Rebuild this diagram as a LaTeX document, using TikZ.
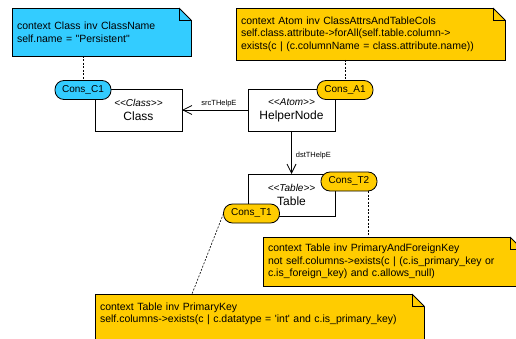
\documentclass[tikz,border=0pt]{standalone}
\usepackage{fontspec}
\setmainfont{Liberation Sans}[Ligatures=TeXOff]
\usetikzlibrary{positioning,arrows.meta}
\definecolor{oclblue}{RGB}{51,204,255}
\definecolor{oclyellow}{RGB}{255,204,0}
\tikzset{
  oclnote/.style={draw, fill=#1, line width=0.8pt, outer sep=0pt, inner xsep=5pt, inner ysep=0pt, align=left, font=\fontsize{10.5}{12.5}\selectfont},
  umlclass/.style={draw, fill=white, line width=0.8pt, outer sep=0pt, minimum width=87pt, minimum height=42pt, align=center, font=\fontsize{12}{14}\selectfont},
  conspill/.style={draw, fill=#1, line width=0.8pt, rounded corners=9pt, outer sep=0pt, minimum width=56pt, minimum height=19pt, inner sep=0pt, font=\fontsize{10}{12}\selectfont},
  assocarrow/.style={-{Straight Barb[length=9pt, width=9pt]}, line width=0.8pt},
  anchorline/.style={dash pattern=on 2pt off 1.5pt, line width=0.6pt},
  rolelabel/.style={font=\fontsize{7.5}{9}\selectfont, inner sep=1pt}
}
\newcommand{\stereo}[1]{{\fontsize{10}{12}\selectfont\itshape <<#1>>}}

\begin{document}
\begin{tikzpicture}[x=1pt, y=-1pt]
  \useasboundingbox (0,0) rectangle (516,339);
  \clip (0,0) rectangle (516,339);
  % OCL constraint notes
  \node[oclnote=oclblue, text width=169pt, minimum height=48pt] (noteC) at (101.5,32)
    {context Class inv ClassName\\self.name = "Persistent"};
  \node[oclnote=oclyellow, text width=259pt, minimum height=52pt] (noteA) at (370.5,34)
    {context Atom inv ClassAttrsAndTableCols\\self.class.attribute->forAll(self.table.column->\\exists(c | (c.columnName = class.attribute.name))};
  \node[oclnote=oclyellow, text width=249pt, minimum height=49pt] (noteK) at (392.5,261.5)
    {context Table inv PrimaryAndForeignKey\\not self.columns->exists(c | (c.is\_primary\_key or\\c.is\_foreign\_key) and c.allows\_null)};
  \node[oclnote=oclyellow, text width=319pt, minimum height=50pt] (noteP) at (259.5,319)
    {context Table inv PrimaryKey\\self.columns->exists(c | c.datatype = 'int' and c.is\_primary\_key)\\\mbox{}};
  \foreach \n in {noteC,noteA,noteK,noteP}{
    \fill[white] ([xshift=-12pt]\n.north east) -- ([xshift=-12pt,yshift=1pt]\n.north east)
      -- ([xshift=1pt,yshift=1pt]\n.north east) -- ([xshift=1pt,yshift=-12pt]\n.north east)
      -- ([yshift=-12pt]\n.north east) -- cycle;
    \draw[line width=0.8pt] ([xshift=-12pt]\n.north east) -- ([yshift=-12pt]\n.north east);
    \draw[line width=0.8pt] ([xshift=-12pt]\n.north east) -- ([xshift=-12pt,yshift=-12pt]\n.north east)
      -- ([yshift=-12pt]\n.north east);
  }

  % classes
  \node[umlclass] (classC) at (138.5,110) {\stereo{Class}\\Class};
  \node[umlclass] (helper) at (291.5,110) {\stereo{Atom}\\HelperNode};
  \node[umlclass] (table) at (291.5,195) {\stereo{Table}\\Table};

  \draw[assocarrow] (helper.west) -- (classC.east)
    node[rolelabel, pos=0.44, above=2pt] {srcTHelpE};
  \draw[assocarrow] (helper.south) -- (table.north)
    node[rolelabel, pos=0.56, right=3pt] {dstTHelpE};

  % constraint pills and their anchors
  \node[conspill=oclblue] (consC) at (83,90) {Cons\_C1};
  \node[conspill=oclyellow] (consA) at (345,90) {Cons\_A1};
  \node[conspill=oclyellow] (consT2) at (349,181.5) {Cons\_T2};
  \node[conspill=oclyellow] (consT1) at (251.5,213.5) {Cons\_T1};

  \draw[anchorline] (noteC.south -| consC.north) -- (consC.north);
  \draw[anchorline] (noteA.south -| consA.north) -- (consA.north);
  \draw[anchorline] ([xshift=19pt]consT2.south) -- ([xshift=19pt]consT2.south |- noteK.north);
  \draw[anchorline] (consT1.west) -- ([xshift=97pt]noteP.north west);
\end{tikzpicture}
\end{document}
